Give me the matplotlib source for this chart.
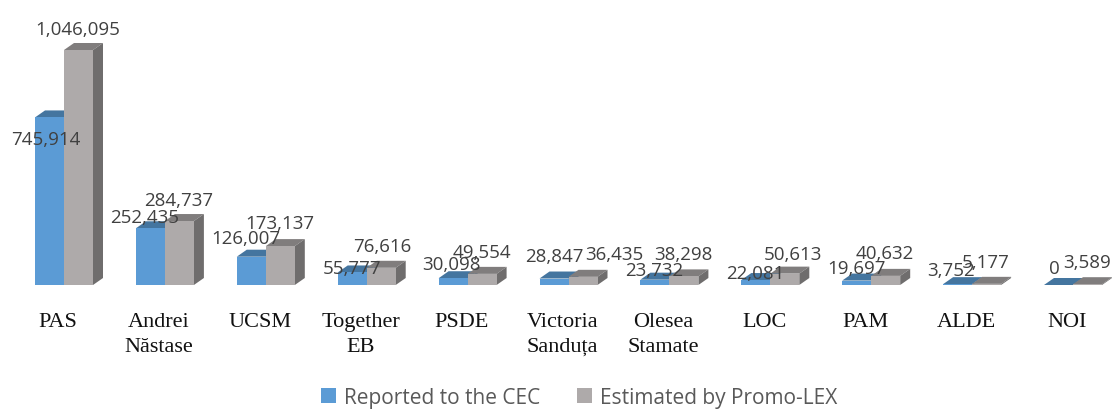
import numpy as np
import matplotlib
matplotlib.use('Agg')
import matplotlib.pyplot as plt
from matplotlib.patches import Polygon

# values
categories = ['PAS', 'Andrei\nNăstase', 'UCSM', 'Together\nEB', 'PSDE', 'Victoria\nSanduța',
              'Olesea\nStamate', 'LOC', 'PAM', 'ALDE', 'NOI']
reported = [745914, 252435, 126007, 55777, 30098, 28847, 23732, 22081, 19697, 3752, 0]
estimated = [1046095, 284737, 173137, 76616, 49554, 36435, 38298, 50613, 40632, 5177, 3589]

W, H = 1114, 410
base_px = 286
first_px = 64
step_px = 100.9
bar_px = 29
depth_x = 10
depth_y = 7
px_per_unit = 235 / 1046095

# label centres in picture pixels, Excel put these by hand
reported_xy = [(46, 140), (145, 218), (246, 239), (352, 269), (451, 265), (554, 257),
               (654, 271), (755, 274), (857, 269), (951, 271), (1054, 269)]
estimated_xy = [(78, 30), (179, 201), (280, 224), (382, 247), (482, 253), (614, 255),
                (683, 255), (793, 255), (885, 254), (986, 263), (1087, 263)]

fig = plt.figure(figsize=(W / 100, H / 100), dpi=100)
ax = fig.add_axes([0, 1 - base_px / H, 1, base_px / H])
ax.set_xlim(-first_px / step_px, (W - first_px) / step_px)
ax.set_ylim(0, base_px / px_per_unit)

x = np.arange(len(categories))
w = bar_px / step_px
dx = depth_x / step_px
dy = depth_y / px_per_unit


def bars_3d(xs, vals, front, top, side, label):
    ax.bar(xs, vals, width=w, color=front, label=label, zorder=2, linewidth=0)
    for xi, v in zip(xs, vals):
        l, r = xi - w / 2, xi + w / 2
        ax.add_patch(Polygon([(l, v), (l + dx, v + dy), (r + dx, v + dy), (r, v)],
                             facecolor=top, edgecolor='none', zorder=1.5))
        ax.add_patch(Polygon([(r, 0), (r + dx, dy), (r + dx, v + dy), (r, v)],
                             facecolor=side, edgecolor='none', zorder=1.5))


bars_3d(x - w / 2, reported, '#5B9BD5', '#44759F', '#44759F', 'Reported to the CEC')
bars_3d(x + w / 2, estimated, '#AEAAAA', '#807D7D', '#6F6D6D', 'Estimated by Promo-LEX')

for s in ax.spines.values():
    s.set_visible(False)
ax.set_yticks([])
ax.patch.set_alpha(0)
ax.set_xticks(x - 6 / step_px)
ax.set_xticklabels(categories, family='Liberation Serif', fontsize=16, color='#111111', linespacing=1.42)
ax.tick_params(axis='x', length=0, pad=19.5)

for v, (px, py) in zip(reported, reported_xy):
    fig.text(px / W, 1 - py / H, f'{v:,}', ha='center', va='center', family='Open Sans',
             fontsize=13.5, color='#404040', zorder=5)
for v, (px, py) in zip(estimated, estimated_xy):
    fig.text(px / W, 1 - py / H, f'{v:,}', ha='center', va='center', family='Open Sans',
             fontsize=13.5, color='#404040', zorder=5)

fig.legend(loc='lower center', bbox_to_anchor=(0.52, -0.043), ncol=2, frameon=False,
           prop={'family': 'Open Sans', 'size': 15}, labelcolor='#595959',
           handlelength=0.72, handleheight=0.72, handletextpad=0.4, columnspacing=1.75)

fig.savefig('out.png', dpi=100)
